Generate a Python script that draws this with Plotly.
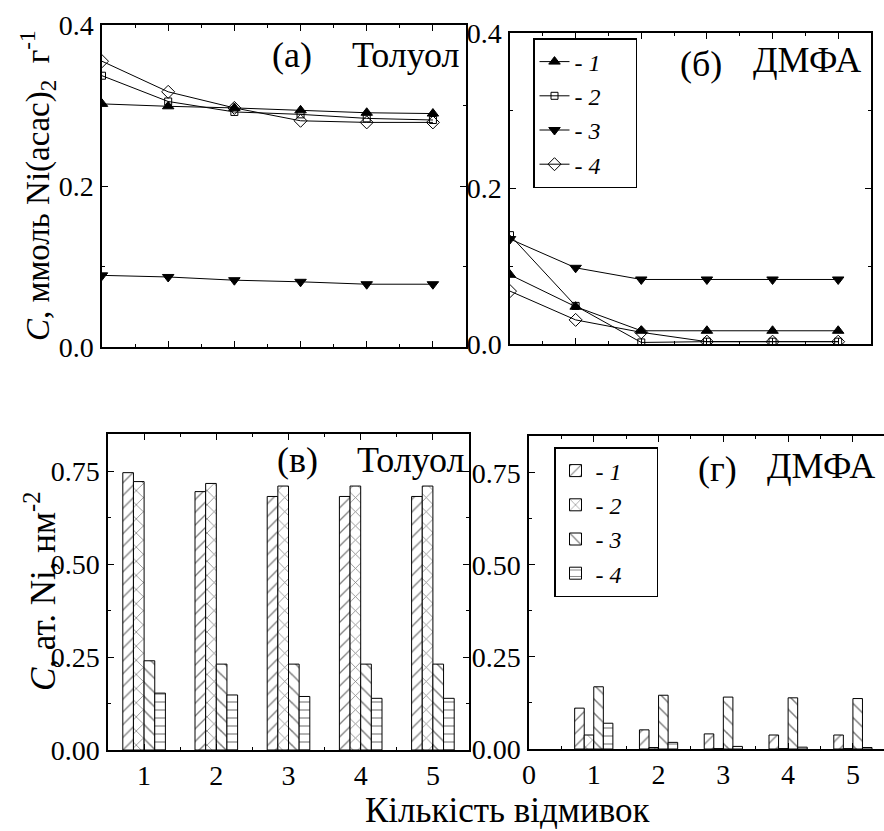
import plotly.graph_objects as go

# ---------------- data ----------------
x_pts = [0, 1, 2, 3, 4, 5]
tol_1 = [0.302, 0.299, 0.297, 0.294, 0.291, 0.290]
tol_2 = [0.337, 0.305, 0.292, 0.289, 0.284, 0.282]
tol_3 = [0.089, 0.087, 0.083, 0.081, 0.078, 0.078]
tol_4 = [0.355, 0.317, 0.297, 0.281, 0.279, 0.279]
dmf_1 = [0.089, 0.048, 0.017, 0.017, 0.017, 0.017]
dmf_2 = [0.140, 0.049, 0.002, 0.003, 0.003, 0.003]
dmf_3 = [0.135, 0.098, 0.083, 0.083, 0.083, 0.083]
dmf_4 = [0.068, 0.031, 0.015, 0.003, 0.003, 0.003]

wash = [1, 2, 3, 4, 5]
tol_bar_1 = [0.746, 0.695, 0.682, 0.682, 0.682]
tol_bar_2 = [0.722, 0.717, 0.710, 0.710, 0.710]
tol_bar_3 = [0.240, 0.231, 0.231, 0.231, 0.231]
tol_bar_4 = [0.153, 0.148, 0.144, 0.139, 0.139]
dmf_bar_1 = [0.111, 0.052, 0.041, 0.038, 0.038]
dmf_bar_2 = [0.038, 0.004, 0.001, 0.001, 0.001]
dmf_bar_3 = [0.169, 0.146, 0.141, 0.139, 0.137]
dmf_bar_4 = [0.070, 0.018, 0.007, 0.005, 0.004]

series_names = ["- <i>1</i>&nbsp;&nbsp;&nbsp;&nbsp;&nbsp;", "- <i>2</i>&nbsp;&nbsp;&nbsp;&nbsp;&nbsp;",
                "- <i>3</i>&nbsp;&nbsp;&nbsp;&nbsp;&nbsp;", "- <i>4</i>&nbsp;&nbsp;&nbsp;&nbsp;&nbsp;"]
x_title = "Кількість відмивок"
y_title_top = "<i>C</i>, ммоль Ni(acac)<sub>2</sub>  г<sup>-1</sup>"
y_title_bot = "<i>C</i>, ат. Ni, нм<sup>-2</sup>"

# ---------------- styling ----------------
W, H = 884, 831
FONT = "Liberation Serif"
symbols = ["triangle-up", "square-open", "triangle-down", "diamond-open"]
msizes = [10, 7, 10, 10]
patterns = ["/", "x", "\\", "-"]
psizes = [9, 10, 10, 8]


def px(x):
    return x / W


def py(y):
    return 1 - y / H


fig = go.Figure()

line_sets = [(tol_1, tol_2, tol_3, tol_4, "x", "y"),
             (dmf_1, dmf_2, dmf_3, dmf_4, "x2", "y2")]
for k, (s1, s2, s3, s4, xa, ya) in enumerate(line_sets):
    for i, s in enumerate([s1, s2, s3, s4]):
        fig.add_trace(go.Scatter(
            x=x_pts, y=s, xaxis=xa, yaxis=ya, mode="lines+markers",
            name=series_names[i], legend="legend",
            showlegend=(k == 1),
            line=dict(color="black", width=1),
            marker=dict(symbol=symbols[i], size=msizes[i], color="black",
                        line=dict(color="black", width=1)),
        ))

bar_sets = [(tol_bar_1, tol_bar_2, tol_bar_3, tol_bar_4, "x3", "y3"),
            (dmf_bar_1, dmf_bar_2, dmf_bar_3, dmf_bar_4, "x4", "y4")]
for k, (b1, b2, b3, b4, xa, ya) in enumerate(bar_sets):
    for i, b in enumerate([b1, b2, b3, b4]):
        fig.add_trace(go.Bar(
            x=wash, y=b, xaxis=xa, yaxis=ya,
            name=series_names[i], legend="legend2",
            showlegend=(k == 1),
            marker=dict(color="white",
                        line=dict(color="black", width=1),
                        pattern=dict(shape=patterns[i], fgcolor="black",
                                     bgcolor="white", size=psizes[i],
                                     solidity=0.15)),
        ))


def xax(domain, rng, labels, anchor):
    return dict(domain=domain, range=rng, anchor=anchor, automargin=False,
                showline=True, linecolor="black", linewidth=1.5,
                mirror="allticks", ticks="inside", ticklen=6, tickwidth=1,
                tickcolor="black", dtick=1, tick0=0,
                minor=dict(dtick=0.5, ticks="inside", ticklen=3,
                           tickcolor="black", showgrid=False),
                showgrid=False, zeroline=False, showticklabels=labels,
                tickfont=dict(family=FONT, size=28, color="black"),
                ticklabelstandoff=0)


def yax(domain, rng, dt, fmt, anchor, mirror="allticks"):
    return dict(domain=domain, range=rng, anchor=anchor, automargin=False,
                showline=True, linecolor="black", linewidth=1.5,
                mirror=mirror, ticks="inside", ticklen=6, tickwidth=1,
                tickcolor="black", dtick=dt, tick0=0, tickformat=fmt,
                minor=dict(dtick=dt / 2, ticks="inside", ticklen=3,
                           tickcolor="black", showgrid=False),
                showgrid=False, zeroline=False,
                tickfont=dict(family=FONT, size=28, color="black"),
                ticklabelstandoff=1)


fig.update_layout(
    width=W, height=H,
    margin=dict(l=0, r=0, t=0, b=0, pad=0),
    paper_bgcolor="white", plot_bgcolor="white",
    font=dict(family=FONT, color="black"),
    barmode="group", bargap=0.41, bargroupgap=0,
    xaxis=xax([px(102), px(466)], [0, 5.5], False, "y"),
    yaxis=yax([py(347), py(25)], [0, 0.4], 0.2, ".1f", "x"),
    xaxis2=xax([px(510), px(871)], [0, 5.5], False, "y2"),
    yaxis2=yax([py(344), py(33)], [0, 0.4], 0.2, ".1f", "x2"),
    xaxis3=xax([px(108), px(469)], [0.5, 5.5], True, "y3"),
    yaxis3=yax([py(750), py(434)], [0, 0.85], 0.25, ".2f", "x3"),
    xaxis4=xax([px(529), 1.0], [0, 5.48], True, "y4"),
    yaxis4=yax([py(749), py(436)], [0, 0.85], 0.25, ".2f", "x4", mirror=False),
    legend=dict(x=px(533), y=py(38), xanchor="left", yanchor="top",
                bgcolor="white", bordercolor="black", borderwidth=1.5,
                font=dict(family=FONT, size=24, color="black"),
                tracegroupgap=0, itemwidth=30),
    legend2=dict(x=px(554), y=py(447), xanchor="left", yanchor="top",
                 bgcolor="white", bordercolor="black", borderwidth=1.5,
                 font=dict(family=FONT, size=24, color="black"),
                 tracegroupgap=0, itemwidth=30),
)

ann = [
    ("(а)", 292, 55, 36, 0),
    ("Толуол", 405, 55, 36, 0),
    ("(б)", 701, 64, 36, 0),
    ("ДМФА", 807, 60, 36, 0),
    ("(в)", 297, 460, 36, 0),
    ("Толуол", 410, 460, 36, 0),
    ("(г)", 717, 469, 36, 0),
    ("ДМФА", 821, 466, 36, 0),
    (x_title, 508, 810, 35, 0),
    (y_title_top, 38, 186, 33, -90),
    (y_title_bot, 40, 592, 35, -90),
]
for text, xx, yy, fs, ang in ann:
    fig.add_annotation(text=text, x=px(xx), y=py(yy), xref="paper", yref="paper",
                       xanchor="center", yanchor="middle", showarrow=False,
                       textangle=ang,
                       font=dict(family=FONT, size=fs, color="black"))

fig.write_html("out.html",
               config={"displayModeBar": False},
               post_script="document.body.style.margin='0px';"
                           "document.body.style.overflow='hidden';")
